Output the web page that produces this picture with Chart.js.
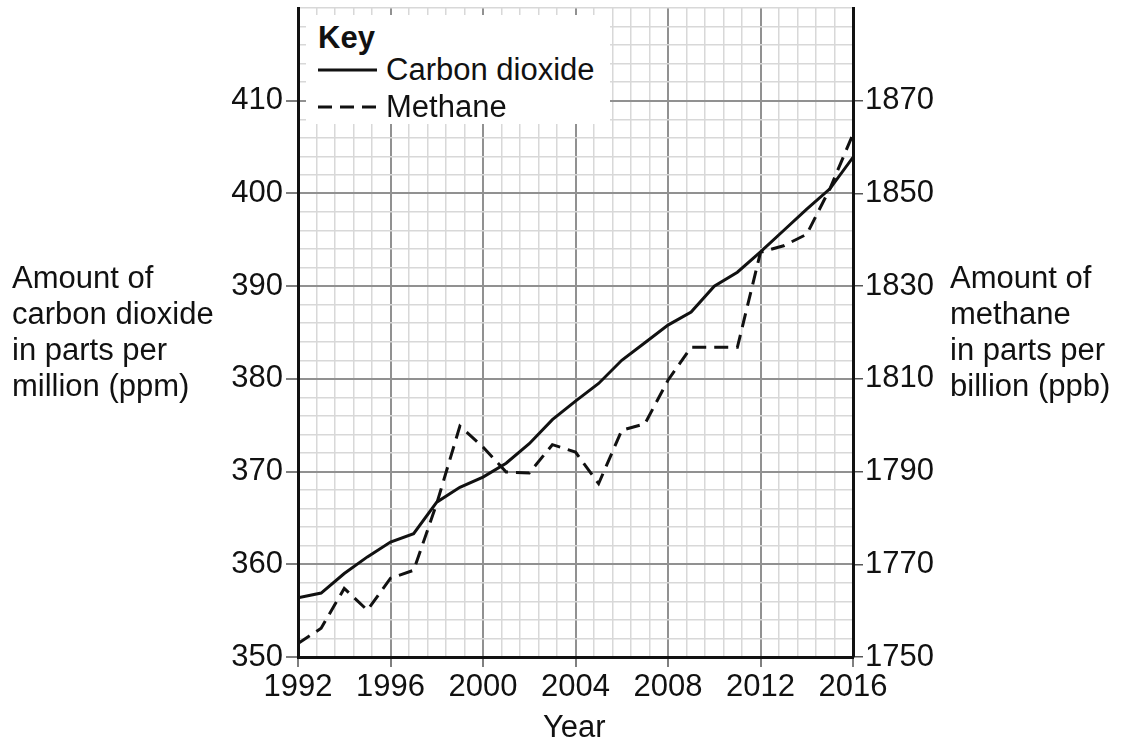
<!DOCTYPE html>
<html>
<head>
<meta charset="utf-8">
<script src="https://cdn.jsdelivr.net/npm/chart.js@4.4.1/dist/chart.umd.min.js"></script>
<style>
  html, body { margin: 0; padding: 0; background: #fff; }
  #wrap { position: relative; width: 1121px; height: 744px; overflow: hidden; font-family: "Liberation Sans", Arial, sans-serif; color: #111; }
  canvas { position: absolute; left: 0; top: 0; }
  .t { position: absolute; font-size: 31px; line-height: 36px; white-space: nowrap; }
  #key { position: absolute; left: 306px; top: 15px; width: 304px; height: 109px; background: #fff; }
</style>
</head>
<body>
<div id="wrap">
  <canvas id="c" width="1121" height="744"></canvas>
  <div id="key">
    <div class="t" style="left:12px; top:5px; font-weight:bold;">Key</div>
    <svg style="position:absolute; left:11px; top:47px;" width="62" height="16">
      <line x1="1" y1="8" x2="60" y2="8" stroke="#111" stroke-width="3"/>
    </svg>
    <div class="t" style="left:80px; top:37px;">Carbon dioxide</div>
    <svg style="position:absolute; left:11px; top:84px;" width="62" height="16">
      <line x1="1" y1="8" x2="60" y2="8" stroke="#111" stroke-width="3" stroke-dasharray="14 8"/>
    </svg>
    <div class="t" style="left:80px; top:74px;">Methane</div>
  </div>
  <div class="t" style="left:12px; top:260px;">Amount of<br>carbon dioxide<br>in parts per<br>million (ppm)</div>
  <div class="t" style="left:950px; top:260px;">Amount of<br>methane<br>in parts per<br>billion (ppb)</div>
  <div class="t" style="left:543px; top:709px;">Year</div>
</div>
<script>
// ---- data ----
const years = [1992,1993,1994,1995,1996,1997,1998,1999,2000,2001,2002,2003,2004,2005,2006,2007,2008,2009,2010,2011,2012,2013,2014,2015,2016];
const co2Ppm = [356.4,356.9,359.0,360.8,362.4,363.3,366.7,368.3,369.4,370.9,373.0,375.6,377.6,379.5,382.0,383.9,385.8,387.2,390.0,391.5,393.7,396.0,398.3,400.5,403.9];
const methanePpb = [1752.9,1756.2,1764.8,1760.1,1767.0,1768.7,1783.1,1799.8,1795.3,1789.9,1789.7,1795.8,1794.2,1787.4,1798.9,1800.3,1809.7,1816.8,1816.8,1816.8,1837.3,1838.7,1841.2,1851.0,1862.8];
const xTickLabels = [1992,1996,2000,2004,2008,2012,2016];
const leftTickLabels = [350,360,370,380,390,400,410];
const rightTickLabels = [1750,1770,1790,1810,1830,1850,1870];

const FONT = '"Liberation Sans", Arial, sans-serif';
const MAJOR = '#919191', MINOR = '#d8d8d8';
const near = (a, b) => Math.abs(a - b) < 1e-6;
const isLabelX = v => xTickLabels.some(l => near(l, v));
const isLabelY = v => leftTickLabels.some(l => near(l, v));
const noPad = s => { s.paddingTop = 0; s.paddingBottom = 0; };

new Chart(document.getElementById('c'), {
  type: 'line',
  data: {
    datasets: [
      { label: 'Carbon dioxide', data: years.map((y, i) => ({ x: y, y: co2Ppm[i] })), yAxisID: 'y',
        borderColor: '#111', borderWidth: 3, pointRadius: 0, tension: 0, fill: false },
      { label: 'Methane', data: years.map((y, i) => ({ x: y, y: methanePpb[i] })), yAxisID: 'y1',
        borderColor: '#111', borderWidth: 3, borderDash: [14, 8], pointRadius: 0, tension: 0, fill: false }
    ]
  },
  options: {
    responsive: false, animation: false, devicePixelRatio: 1,
    layout: { padding: { top: 8, left: 0, right: 0, bottom: 0 } },
    plugins: { legend: { display: false }, tooltip: { enabled: false } },
    scales: {
      x: {
        type: 'linear', min: 1992, max: 2016,
        afterBuildTicks: s => { s.ticks = Array.from({ length: 31 }, (_, i) => ({ value: 1992 + i * 0.8 })); },
        afterFit: s => { s.height = 87; s.paddingLeft = 0; s.paddingRight = 0; },
        border: { display: true, color: '#111', width: 3 },
        grid: {
          color: c => isLabelX(c.tick.value) ? MAJOR : MINOR,
          lineWidth: c => isLabelX(c.tick.value) ? 2 : 1.5,
          tickColor: c => isLabelX(c.tick.value) ? '#555' : 'rgba(0,0,0,0)',
          tickLength: 10, tickWidth: 1.5
        },
        ticks: {
          autoSkip: false, maxRotation: 0, padding: 2, color: '#111',
          font: { family: FONT, size: 31 },
          callback: v => isLabelX(v) ? String(Math.round(v)) : ''
        }
      },
      y: {
        position: 'left', min: 350, max: 420,
        afterBuildTicks: s => { s.ticks = Array.from({ length: 36 }, (_, i) => ({ value: 350 + i * 2 })); },
        afterFit: s => { s.width = 298; noPad(s); },
        border: { display: true, color: '#111', width: 3 },
        grid: {
          color: c => isLabelY(c.tick.value) ? MAJOR : MINOR,
          lineWidth: c => isLabelY(c.tick.value) ? 2 : 1.5,
          tickColor: c => isLabelY(c.tick.value) ? '#555' : 'rgba(0,0,0,0)',
          tickLength: 12, tickWidth: 1.5
        },
        ticks: {
          autoSkip: false, padding: 3, color: '#111',
          font: { family: FONT, size: 31 },
          callback: v => isLabelY(v) ? String(Math.round(v)) : ''
        }
      },
      y1: {
        position: 'right', min: 1750, max: 1890,
        afterBuildTicks: s => { s.ticks = rightTickLabels.map(v => ({ value: v })); },
        afterFit: s => { s.width = 268; noPad(s); },
        border: { display: true, color: '#111', width: 3 },
        grid: { drawOnChartArea: false, color: '#555', tickLength: 10, lineWidth: 1.5 },
        ticks: {
          autoSkip: false, padding: 2, color: '#111',
          font: { family: FONT, size: 31 },
          callback: v => String(Math.round(v))
        }
      }
    }
  }
});
</script>
</body>
</html>
